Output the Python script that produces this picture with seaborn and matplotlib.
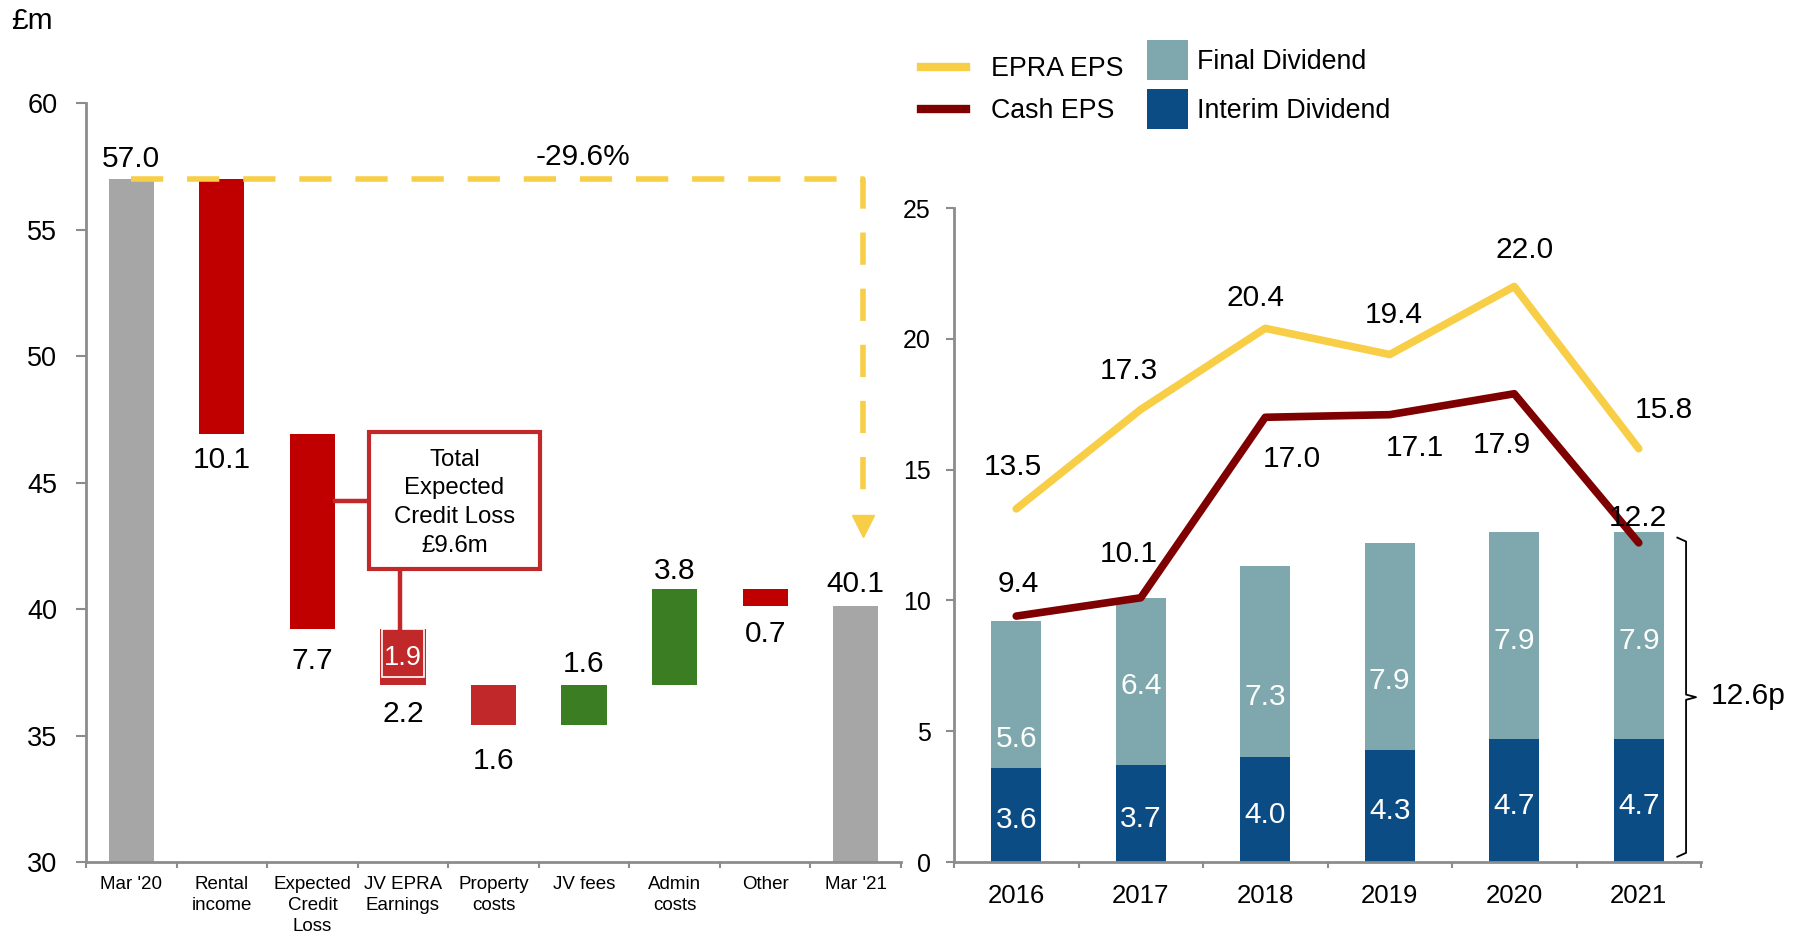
import numpy as np
import pandas as pd
import matplotlib
matplotlib.use("Agg")
import matplotlib.pyplot as plt
import seaborn as sns
from matplotlib.lines import Line2D
from matplotlib.patches import Patch, Rectangle

# ---------------- data ----------------
wf_labels = ["Mar '20", "Rental\nincome", "Expected\nCredit\nLoss", "JV EPRA\nEarnings",
             "Property\ncosts", "JV fees", "Admin\ncosts", "Other", "Mar '21"]
wf_values = [57.0, -10.1, -7.7, -2.2, -1.6, 1.6, 3.8, -0.7, 40.1]
wf_kind = ["total", "delta", "delta", "delta", "delta", "delta", "delta", "delta", "total"]
jv_ecl_part = 1.9
ecl_total_text = "Total\nExpected\nCredit Loss\n£9.6m"
change_text = "-29.6%"

years = ["2016", "2017", "2018", "2019", "2020", "2021"]
epra_eps = [13.5, 17.3, 20.4, 19.4, 22.0, 15.8]
cash_eps = [9.4, 10.1, 17.0, 17.1, 17.9, 12.2]
interim_div = [3.6, 3.7, 4.0, 4.3, 4.7, 4.7]
final_div = [5.6, 6.4, 7.3, 7.9, 7.9, 7.9]
total_div_text = "12.6p"

# ---------------- style ----------------
plt.rcParams['font.family'] = ['Liberation Sans', 'DejaVu Sans']
GRAY_BAR = "#A6A6A6"
RED = "#C00000"
RED2 = "#C0282A"
GREEN = "#3A7D22"
YELLOW = "#F7CE46"
DARKRED = "#7F0000"
FINAL = "#7EA8AD"
INTERIM = "#0B4C84"
AXIS = "#8C8C8C"
VAL_FS = 21.5

W, H = 1794, 932
fig = plt.figure(figsize=(W / 100, H / 100), dpi=100)
ax1 = fig.add_axes([86 / W, 70 / H, 815 / W, 759 / H])
ax2 = fig.add_axes([954 / W, 70 / H, 747 / W, 654 / H])

# ---------------- waterfall ----------------
base = 30.0
bottoms, heights, colors = [], [], []
run = 0.0
for lab, v, k in zip(wf_labels, wf_values, wf_kind):
    if k == "total":
        bottoms.append(base)
        heights.append(v - base)
        colors.append(GRAY_BAR)
        run = v
    else:
        bottoms.append(run)
        heights.append(v)
        run = run + v
        if v > 0:
            colors.append(GREEN)
        elif lab.startswith("JV") or lab.startswith("Property"):
            colors.append(RED2)
        else:
            colors.append(RED)

df_wf = pd.DataFrame({"label": wf_labels, "height": heights})
sns.barplot(data=df_wf, x="label", y="height", bottom=np.array(bottoms), width=0.5,
            color=GRAY_BAR, errorbar=None, linewidth=0, ax=ax1)
for p, c in zip(ax1.patches, colors):
    p.set_facecolor(c)

# ECL part within JV bar
jv_i = 3
ax1.bar(jv_i, -jv_ecl_part, bottom=bottoms[jv_i], width=0.46, color=RED2,
        edgecolor="white", linewidth=1.2, zorder=3)
ax1.text(jv_i, bottoms[jv_i] - jv_ecl_part / 2 - 0.2, f"{jv_ecl_part:.1f}", color="white",
         ha="center", va="center", fontsize=19.5, zorder=4)

# value labels (gap between bar end and label centre, in £m)
label_gap = [0.77, 1.0, 1.27, 1.14, 1.41, 0.81, 0.72, 1.09, 0.9]
for i, (v, k, b, h) in enumerate(zip(wf_values, wf_kind, bottoms, heights)):
    top = max(b, b + h)
    bot = min(b, b + h)
    if k == "total" or v > 0:
        ax1.text(i, top + label_gap[i], f"{abs(v):.1f}", ha="center", va="center",
                 fontsize=VAL_FS)
    else:
        ax1.text(i, bot - label_gap[i], f"{abs(v):.1f}", ha="center", va="center",
                 fontsize=VAL_FS)

# dashed yellow connector
start_v = wf_values[0]
end_x = len(wf_labels) - 1 + 0.08
ax1.plot([0, end_x, end_x], [start_v, start_v, 44.7], color=YELLOW, lw=4,
         linestyle=(0, (5.8, 4.3)), zorder=5, clip_on=False, solid_joinstyle="miter")
ax1.plot([end_x], [43.3], marker="v", markersize=16.5, color=YELLOW, zorder=5,
         linestyle="none", clip_on=False)
ax1.text(4.99, 57.85, change_text, ha="center", va="center", fontsize=VAL_FS)

# callout
ax1.add_patch(Rectangle((2.63, 41.6), 4.51 - 2.63, 47.0 - 41.6, facecolor="white",
                        edgecolor=RED2, linewidth=3, zorder=4))
ax1.plot([2.25, 2.63], [44.27, 44.27], color=RED2, lw=3.2, zorder=3)
ax1.plot([2.97, 2.97], [41.6, bottoms[jv_i]], color=RED2, lw=3.2, zorder=3)
ax1.text(3.57, 44.2, ecl_total_text, ha="center", va="center", fontsize=17.3,
         linespacing=1.4, zorder=5)

ax1.set_xlim(-0.5, len(wf_labels) - 0.5)
ax1.set_ylim(30, 60)
ax1.set_yticks(np.arange(30, 61, 5))
ax1.set_xticks(range(len(wf_labels)))
ax1.set_xticklabels(wf_labels, fontsize=13.5, linespacing=1.3)
ax1.set_xticks(np.arange(-0.5, len(wf_labels), 1), minor=True)
ax1.set_xlabel("")
ax1.set_ylabel("")

# ---------------- right chart ----------------
totals = [a + b for a, b in zip(interim_div, final_div)]
sns.barplot(x=years, y=totals, color=FINAL, width=0.4, errorbar=None, linewidth=0,
            saturation=1, ax=ax2)
sns.barplot(x=years, y=interim_div, color=INTERIM, width=0.4, errorbar=None, linewidth=0,
            saturation=1, ax=ax2)
xs = np.arange(len(years))
sns.lineplot(x=xs, y=epra_eps, color=YELLOW, lw=5.5, ax=ax2, sort=False,
             solid_capstyle="round")
sns.lineplot(x=xs, y=cash_eps, color=DARKRED, lw=5.5, ax=ax2, sort=False,
             solid_capstyle="round")

epra_lab_pos = [(-0.03, 15.11), (0.905, 18.76), (1.92, 21.56), (3.03, 20.92), (4.08, 23.41), (5.2, 17.26)]
cash_lab_pos = [(0.02, 10.64), (0.905, 11.76), (2.21, 15.41), (3.2, 15.81), (3.9, 15.94), (4.99, 13.14)]
for v, (x, y) in zip(epra_eps, epra_lab_pos):
    ax2.text(x, y, f"{v:.1f}", ha="center", va="center", fontsize=VAL_FS)
for v, (x, y) in zip(cash_eps, cash_lab_pos):
    ax2.text(x, y, f"{v:.1f}", ha="center", va="center", fontsize=VAL_FS)

final_lab_y = [4.69, 6.72, 6.29, 6.91, 8.44, 8.44]
for i, (iv, fv) in enumerate(zip(interim_div, final_div)):
    ax2.text(i, iv / 2 - 0.2, f"{iv:.1f}", ha="center", va="center", fontsize=VAL_FS,
             color="white")
    ax2.text(i, final_lab_y[i], f"{fv:.1f}", ha="center", va="center", fontsize=VAL_FS,
             color="white")

# brace
top = totals[-1] - 0.2
mid = 6.3
bx0, bx1, bx2 = 5.31, 5.38, 5.46
ax2.plot([bx0, bx1, bx1, bx2, bx1, bx1, bx0],
         [top, top - 0.15, mid + 0.1, mid, mid - 0.1, 0.35, 0.2],
         color="black", lw=1.3, clip_on=False)
ax2.text(5.58, 6.35, total_div_text, ha="left", va="center", fontsize=VAL_FS,
         clip_on=False)

ax2.set_xlim(-0.5, len(years) - 0.5)
ax2.set_ylim(0, 25)
ax2.set_yticks(np.arange(0, 26, 5))
ax2.set_xticks(xs)
ax2.set_xticklabels(years, fontsize=18.5)
ax2.set_xticks(np.arange(-0.5, len(years), 1), minor=True)
ax2.set_xlabel("")
ax2.set_ylabel("")

# axes styling
for ax, ylab_size, ypad, ylen, xpad in [(ax1, 19.5, 13.5, 7.2, 10), (ax2, 18, 11, 5.8, 16)]:
    for s in ["top", "right"]:
        ax.spines[s].set_visible(False)
    for s in ["left", "bottom"]:
        ax.spines[s].set_color(AXIS)
        ax.spines[s].set_linewidth(2)
    ax.tick_params(axis="y", which="major", left=True, length=ylen, width=1.5, color=AXIS,
                   labelsize=ylab_size, pad=ypad)
    ax.tick_params(axis="x", which="major", bottom=True, length=0, pad=xpad)
    ax.tick_params(axis="x", which="minor", bottom=True, length=4.5, width=1.5, color=AXIS)
    ax.set_facecolor("white")
    ax.grid(False)

# legends
LEG_FS = 19.3
leg1 = fig.legend(handles=[Line2D([], [], color=YELLOW, lw=6),
                           Line2D([], [], color=DARKRED, lw=6)],
                  labels=["EPRA EPS", "Cash EPS"], loc="upper left",
                  bbox_to_anchor=(921 / W, 1 - 56 / H), frameon=False, fontsize=LEG_FS,
                  handlelength=1.68, handletextpad=0.93, labelspacing=0.6,
                  borderpad=0, borderaxespad=0)
leg2 = fig.legend(handles=[Patch(facecolor=FINAL), Patch(facecolor=INTERIM)],
                  labels=["Final Dividend", "Interim Dividend"], loc="upper left",
                  bbox_to_anchor=(1147 / W, 1 - 40 / H), frameon=False, fontsize=LEG_FS,
                  handlelength=1.53, handleheight=1.92, handletextpad=0.34,
                  labelspacing=0.34, borderpad=0, borderaxespad=0)

fig.text(32 / W, 1 - 21 / H, "£m", ha="center", va="center", fontsize=21.5)

fig.savefig("out.png", dpi=100, facecolor="white")
